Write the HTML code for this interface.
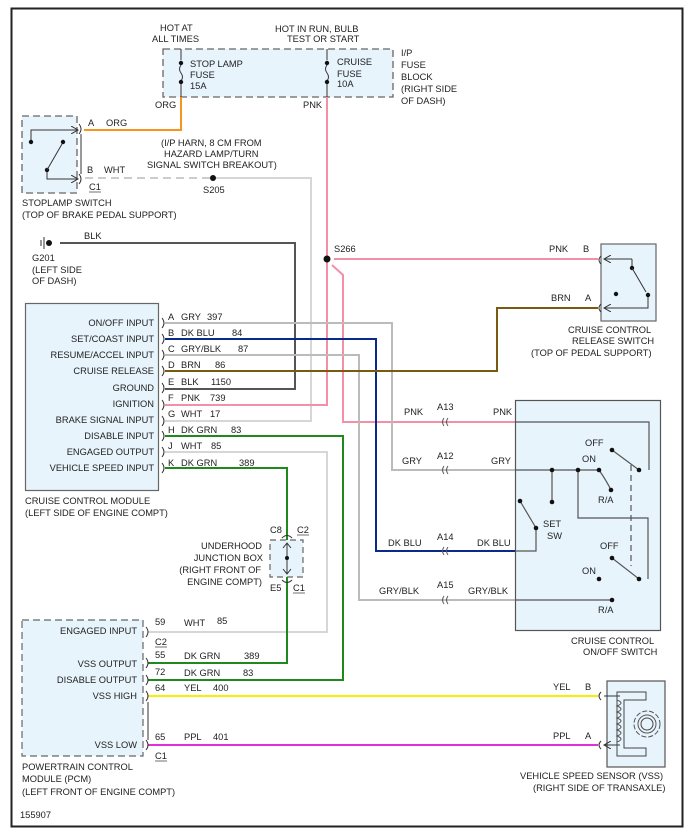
<!DOCTYPE html>
<html><head><meta charset="utf-8"><style>
html,body{margin:0;padding:0;background:#fff}
svg{display:block}
text{font-family:"Liberation Sans",Arial,sans-serif;font-size:9.3px;fill:#222}
</style></head><body>
<svg width="690" height="836" viewBox="0 0 690 836" xmlns="http://www.w3.org/2000/svg">
<rect x="11.5" y="8.5" width="671" height="818" fill="#fff" stroke="#222" stroke-width="2"/>
<defs>
<marker id="ar" markerWidth="8" markerHeight="8" refX="7" refY="4" orient="auto" markerUnits="userSpaceOnUse"><path d="M0,0 L7,4 L0,8" fill="none" stroke="#333" stroke-width="1"/></marker>
</defs>

<!-- fuse block -->
<rect x="163" y="49" width="230" height="48" fill="#e8f4fc" stroke="#666" stroke-dasharray="7,4" stroke-width="1.3"/>
<text x="160" y="31">HOT AT</text><text x="152" y="42">ALL TIMES</text>
<text x="275" y="32">HOT IN RUN, BULB</text><text x="287" y="42">TEST OR START</text>
<line x1="181" y1="49" x2="181" y2="60" stroke="#333"/><circle cx="181" cy="63" r="2.2" fill="#111"/>
<path d="M181,65 q-3,4 0,8 q3,4 0,8" fill="none" stroke="#333"/><circle cx="181" cy="82" r="2.2" fill="#111"/>
<line x1="181" y1="84" x2="181" y2="97" stroke="#333"/>
<text x="190" y="67">STOP LAMP</text><text x="190" y="78">FUSE</text><text x="190" y="89">15A</text>
<line x1="327" y1="49" x2="327" y2="60" stroke="#333"/><circle cx="327" cy="63" r="2.2" fill="#111"/>
<path d="M327,65 q-3,4 0,8 q3,4 0,8" fill="none" stroke="#333"/><circle cx="327" cy="82" r="2.2" fill="#111"/>
<line x1="327" y1="84" x2="327" y2="97" stroke="#333"/>
<text x="337" y="65">CRUISE</text><text x="337" y="77">FUSE</text><text x="337" y="87">10A</text>
<text x="401" y="56">I/P</text><text x="401" y="68">FUSE</text><text x="401" y="80">BLOCK</text><text x="401" y="92">(RIGHT SIDE</text><text x="401" y="104">OF DASH)</text>
<text x="155" y="108">ORG</text><text x="303" y="108">PNK</text>

<!-- stoplamp switch -->
<rect x="22" y="116" width="55" height="77" fill="#e8f4fc" stroke="#666" stroke-dasharray="7,4" stroke-width="1.3"/>
<path d="M31,142 V130 H78" fill="none" stroke="#333" marker-end="url(#ar)"/>
<path d="M47,170 V179 H78" fill="none" stroke="#333" marker-end="url(#ar)"/>
<circle cx="31" cy="142" r="2.2" fill="#111"/><circle cx="63" cy="142" r="2.2" fill="#111"/><circle cx="47" cy="170" r="2.2" fill="#111"/>
<line x1="47" y1="170" x2="62" y2="144" stroke="#333"/>
<path d="M79,124 q4,5 0,10" fill="none" stroke="#333"/><path d="M79,174 q4,5 0,10" fill="none" stroke="#333"/>
<line x1="81" y1="134" x2="81" y2="174" stroke="#333"/>
<text x="88" y="126">A</text><text x="106" y="126">ORG</text>
<text x="87" y="173">B</text><text x="104" y="173">WHT</text>
<text x="89" y="190">C1</text><line x1="89" y1="192" x2="101" y2="192" stroke="#333" stroke-width=".7"/>
<text x="22" y="206">STOPLAMP SWITCH</text><text x="22" y="218">(TOP OF BRAKE PEDAL SUPPORT)</text>
<text x="161" y="146">(I/P HARN, 8 CM FROM</text><text x="164" y="157">HAZARD LAMP/TURN</text><text x="147" y="168">SIGNAL SWITCH BREAKOUT)</text>

<!-- wires -->
<path d="M181,97 V130 H84" fill="none" stroke="#f7941d" stroke-width="2"/>
<path d="M85,178 H213" fill="none" stroke="#ccc" stroke-width="2" stroke-dasharray="8,5"/>
<path d="M213,178 H311 V421 H165" fill="none" stroke="#d6d6d6" stroke-width="2"/>
<circle cx="213" cy="178" r="3" fill="#111"/><text x="203" y="193">S205</text>
<!-- ground -->
<line x1="41" y1="240" x2="41" y2="246" stroke="#333"/><line x1="44" y1="237" x2="44" y2="249" stroke="#333"/>
<circle cx="49" cy="243" r="3" fill="#111"/>
<path d="M60,243 H295 V389 H165" fill="none" stroke="#555" stroke-width="2"/>
<text x="84" y="239">BLK</text>
<text x="32" y="261">G201</text><text x="32" y="273">(LEFT SIDE</text><text x="32" y="284">OF DASH)</text>
<!-- pink -->
<path d="M327,97 V405 H165" fill="none" stroke="#f48fa8" stroke-width="2"/>
<path d="M334,259 H598" fill="none" stroke="#f48fa8" stroke-width="2"/>
<path d="M332,265 L343,275 V422 H515" fill="none" stroke="#f48fa8" stroke-width="2"/>
<circle cx="327" cy="259" r="3.5" fill="#111"/><text x="334" y="252">S266</text>
<!-- A GRY -->
<path d="M165,323 H392 V470 H515" fill="none" stroke="#bbb" stroke-width="2"/>
<!-- B DK BLU -->
<path d="M165,339 H376 V551 H515" fill="none" stroke="#0a2a8a" stroke-width="2"/>
<!-- C GRY/BLK -->
<path d="M165,355 H359 V600 H515" fill="none" stroke="#bbb" stroke-width="2"/>
<!-- D BRN -->
<path d="M165,371 H497 V308 H598" fill="none" stroke="#7a5a10" stroke-width="2"/>
<!-- H DK GRN -->
<path d="M165,436 H343 V680 H148" fill="none" stroke="#1e8a1e" stroke-width="2"/>
<!-- J WHT -->
<path d="M165,452 H327 V632 H148" fill="none" stroke="#d6d6d6" stroke-width="2"/>
<!-- K DK GRN -->
<path d="M165,468 H287 V663 H148" fill="none" stroke="#1e8a1e" stroke-width="2"/>
<!-- YEL PPL -->
<path d="M148,696 H598" fill="none" stroke="#f5ef00" stroke-width="2"/>
<path d="M148,745 H598" fill="none" stroke="#e030d8" stroke-width="2"/>

<!-- cruise control module -->
<rect x="25.5" y="303.5" width="133" height="187" fill="#e8f4fc" stroke="#666" stroke-width="1.2"/>
<g text-anchor="end">
<text x="154" y="326">ON/OFF INPUT</text><text x="154" y="342">SET/COAST INPUT</text><text x="154" y="358">RESUME/ACCEL INPUT</text>
<text x="154" y="374">CRUISE RELEASE</text><text x="154" y="391">GROUND</text><text x="154" y="407">IGNITION</text>
<text x="154" y="423">BRAKE SIGNAL INPUT</text><text x="154" y="439">DISABLE INPUT</text><text x="154" y="455">ENGAGED OUTPUT</text>
<text x="154" y="471">VEHICLE SPEED INPUT</text>
</g>
<g fill="none" stroke="#333">
<path d="M162,318 q4,5 0,10"/><path d="M162,334 q4,5 0,10"/><path d="M162,350 q4,5 0,10"/><path d="M162,366 q4,5 0,10"/><path d="M162,383 q4,5 0,10"/>
<path d="M162,400 q4,5 0,10"/><path d="M162,416 q4,5 0,10"/><path d="M162,431 q4,5 0,10"/><path d="M162,447 q4,5 0,10"/><path d="M162,463 q4,5 0,10"/>
</g>
<text x="168" y="320">A</text><text x="181" y="320">GRY</text><text x="207" y="320">397</text>
<text x="168" y="336">B</text><text x="181" y="336">DK BLU</text><text x="232" y="336">84</text>
<text x="168" y="352">C</text><text x="181" y="352">GRY/BLK</text><text x="238" y="352">87</text>
<text x="168" y="368">D</text><text x="181" y="368">BRN</text><text x="215" y="368">86</text>
<text x="168" y="385">E</text><text x="181" y="385">BLK</text><text x="211" y="385">1150</text>
<text x="168" y="401">F</text><text x="181" y="401">PNK</text><text x="210" y="401">739</text>
<text x="168" y="417">G</text><text x="181" y="417">WHT</text><text x="210" y="417">17</text>
<text x="168" y="433">H</text><text x="181" y="433">DK GRN</text><text x="231" y="433">83</text>
<text x="168" y="449">J</text><text x="181" y="449">WHT</text><text x="211" y="449">85</text>
<text x="168" y="466">K</text><text x="181" y="466">DK GRN</text><text x="239" y="466">389</text>
<text x="25" y="504">CRUISE CONTROL MODULE</text><text x="25" y="516">(LEFT SIDE OF ENGINE COMPT)</text>

<!-- junction box -->
<rect x="270" y="540" width="33" height="37" fill="#e8f4fc" stroke="#666" stroke-dasharray="6,4" stroke-width="1.2"/>
<path d="M282,538 q5,-5 10,0" fill="none" stroke="#333"/><path d="M282,580 q5,5 10,0" fill="none" stroke="#333"/>
<line x1="287" y1="543" x2="287" y2="574" stroke="#333"/>
<path d="M283,548 L287,543 L291,548 M283,569 L287,574 L291,569" fill="none" stroke="#333"/>
<circle cx="287" cy="558" r="2" fill="#111"/>
<text x="270" y="533">C8</text><text x="297" y="533">C2</text><line x1="297" y1="535" x2="309" y2="535" stroke="#333" stroke-width=".7"/>
<text x="270" y="591">E5</text><text x="293" y="591">C1</text><line x1="293" y1="593" x2="305" y2="593" stroke="#333" stroke-width=".7"/>
<g text-anchor="end"><text x="262" y="549">UNDERHOOD</text><text x="263" y="561">JUNCTION BOX</text><text x="261" y="573">(RIGHT FRONT OF</text><text x="262" y="585">ENGINE COMPT)</text></g>

<!-- release switch -->
<rect x="601" y="244" width="55" height="77" fill="#e8f4fc" stroke="#666" stroke-width="1.2"/>
<path d="M601,256 q-4,4 0,8" fill="none" stroke="#333"/><path d="M601,304 q-4,4 0,8" fill="none" stroke="#333"/>
<path d="M632,259 H604" fill="none" stroke="#333" marker-end="url(#ar)"/>
<path d="M648,295 V308 H604" fill="none" stroke="#333" marker-end="url(#ar)"/>
<path d="M632,259 V268" fill="none" stroke="#333"/>
<circle cx="632" cy="268" r="2.2" fill="#111"/><circle cx="648" cy="295" r="2.2" fill="#111"/><circle cx="616" cy="294" r="2.2" fill="#111"/>
<line x1="632" y1="268" x2="646" y2="292" stroke="#333"/>
<text x="549" y="252">PNK</text><text x="583" y="252">B</text>
<text x="551" y="301">BRN</text><text x="585" y="301">A</text>
<text x="568" y="333">CRUISE CONTROL</text><text x="572" y="344">RELEASE SWITCH</text><text x="531" y="356">(TOP OF PEDAL SUPPORT)</text>

<!-- cruise on/off switch -->
<rect x="515.5" y="400.5" width="145" height="230" fill="#e8f4fc" stroke="#555" stroke-width="1.2"/>
<g fill="none" stroke="#555" stroke-width="1.2">
<path d="M515,422 H649 V470"/>
<path d="M515,470 H599"/>
<line x1="552" y1="470" x2="552" y2="502"/>
<path d="M578,470 V518 H648 V579"/>
<path d="M599,470 Q606,480 611,490"/>
<line x1="639" y1="470" x2="612" y2="450"/>
<line x1="639" y1="579" x2="612" y2="558"/>
<line x1="631" y1="465" x2="631" y2="566" stroke-dasharray="6,4"/>
<line x1="520" y1="501" x2="536" y2="528"/>
<path d="M536,528 V551 H515"/>
<path d="M515,600 H612"/>
</g>
<g fill="#111">
<circle cx="552" cy="470" r="2.3"/><circle cx="578" cy="470" r="2.3"/><circle cx="599" cy="470" r="2.3"/><circle cx="639" cy="470" r="2.3"/>
<circle cx="612" cy="450" r="2.3"/><circle cx="611" cy="490" r="2.3"/><circle cx="552" cy="502" r="2.3"/>
<circle cx="639" cy="579" r="2.3"/><circle cx="612" cy="558" r="2.3"/><circle cx="599" cy="579" r="2.3"/>
<circle cx="520" cy="501" r="2.3"/><circle cx="536" cy="528" r="2.3"/><circle cx="612" cy="600" r="2.3"/>
</g>
<text x="585" y="446">OFF</text><text x="582" y="462">ON</text><text x="598" y="503">R/A</text>
<text x="543" y="527">SET</text><text x="547" y="539">SW</text>
<text x="600" y="549">OFF</text><text x="582" y="574">ON</text><text x="598" y="613">R/A</text>
<text x="571" y="644">CRUISE CONTROL</text><text x="583" y="655">ON/OFF SWITCH</text>
<!-- A connectors -->
<g fill="none" stroke="#555">
<path d="M444,418 q-3,4 0,8 M448,418 q-3,4 0,8"/>
<path d="M444,466 q-3,4 0,8 M448,466 q-3,4 0,8"/>
<path d="M444,547 q-3,4 0,8 M448,547 q-3,4 0,8"/>
<path d="M444,596 q-3,4 0,8 M448,596 q-3,4 0,8"/>
</g>
<text x="404" y="415">PNK</text><text x="437" y="410">A13</text><text x="493" y="415">PNK</text>
<text x="402" y="464">GRY</text><text x="437" y="459">A12</text><text x="491" y="464">GRY</text>
<text x="388" y="546">DK BLU</text><text x="437" y="540">A14</text><text x="477" y="546">DK BLU</text>
<text x="379" y="594">GRY/BLK</text><text x="437" y="588">A15</text><text x="468" y="594">GRY/BLK</text>

<!-- PCM -->
<rect x="22" y="620" width="121" height="136" fill="#e8f4fc" stroke="#666" stroke-dasharray="7,4" stroke-width="1.2"/>
<g text-anchor="end"><text x="137" y="634">ENGAGED INPUT</text><text x="137" y="667">VSS OUTPUT</text><text x="137" y="683">DISABLE OUTPUT</text><text x="137" y="699">VSS HIGH</text><text x="137" y="748">VSS LOW</text></g>
<g fill="none" stroke="#333">
<path d="M146,627 q4,5 0,10"/><path d="M146,658 q4,5 0,10"/><path d="M146,675 q4,5 0,10"/><path d="M146,691 q4,5 0,10"/><path d="M146,740 q4,5 0,10"/>
<line x1="148" y1="702" x2="148" y2="740"/>
</g>
<text x="155" y="625">59</text><text x="184" y="626">WHT</text><text x="217" y="624">85</text>
<text x="155" y="645">C2</text><line x1="155" y1="647" x2="167" y2="647" stroke="#333" stroke-width=".7"/>
<text x="155" y="658">55</text><text x="184" y="659">DK GRN</text><text x="244" y="659">389</text>
<text x="155" y="675">72</text><text x="184" y="676">DK GRN</text><text x="243" y="676">83</text>
<text x="155" y="691">64</text><text x="184" y="691">YEL</text><text x="213" y="691">400</text>
<text x="155" y="740">65</text><text x="184" y="740">PPL</text><text x="213" y="740">401</text>
<text x="155" y="759">C1</text><line x1="155" y1="761" x2="167" y2="761" stroke="#333" stroke-width=".7"/>
<text x="22" y="770">POWERTRAIN CONTROL</text><text x="22" y="782">MODULE (PCM)</text><text x="22" y="795">(LEFT FRONT OF ENGINE COMPT)</text>
<text x="20" y="818">155907</text>

<!-- VSS -->
<rect x="607" y="681" width="58" height="86" fill="#e8f4fc" stroke="#555" stroke-width="1.2"/>
<path d="M601,692 q-4,4 0,8 M601,741 q-4,4 0,8" fill="none" stroke="#333"/>
<path d="M620,696 H604 M620,745 H604" fill="none" stroke="#333" marker-end="url(#ar)"/>
<path d="M646,692 H617 V756 H646 V748 H624 V700 H646 Z" fill="none" stroke="#444"/>
<path d="M617,700 q8,3 0,6 q8,3 0,6 q8,3 0,6 q8,3 0,6 q8,3 0,6 q8,3 0,6 q8,3 0,6" fill="none" stroke="#555"/>
<circle cx="647" cy="724" r="13" fill="none" stroke="#555" stroke-dasharray="5,2"/>
<circle cx="647" cy="724" r="9" fill="none" stroke="#555"/>
<circle cx="647" cy="724" r="6" fill="none" stroke="#444"/>
<text x="553" y="690">YEL</text><text x="585" y="690">B</text>
<text x="553" y="739">PPL</text><text x="585" y="739">A</text>
<text x="520" y="779">VEHICLE SPEED SENSOR (VSS)</text><text x="533" y="791">(RIGHT SIDE OF TRANSAXLE)</text>
</svg>
</body></html>
